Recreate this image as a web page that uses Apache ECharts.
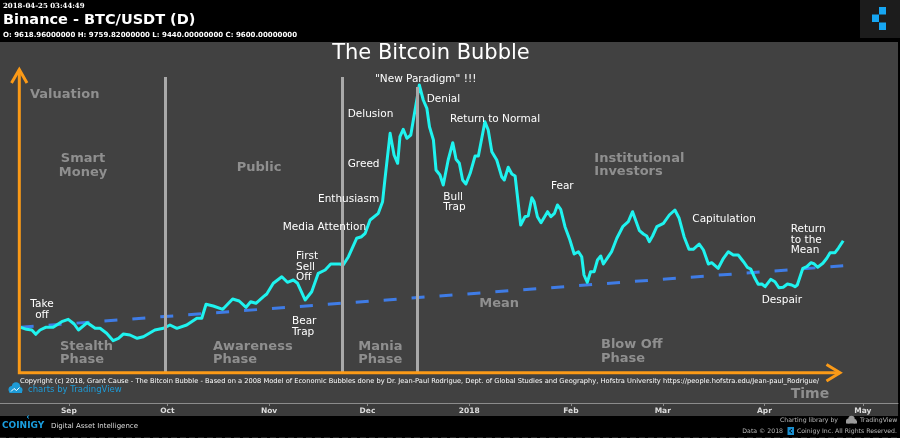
<!DOCTYPE html>
<html>
<head>
<meta charset="utf-8">
<script src="https://cdn.jsdelivr.net/npm/echarts@6/dist/echarts.min.js"></script>
<style>
  html, body { margin: 0; padding: 0; background: #000; }
  #c { width: 900px; height: 438px; }
</style>
</head>
<body>
<div id="c"></div>
<script>
// ---- data ----
// x: days after 2017-08-11, y: relative valuation
const startDate = [2017, 7, 11];
const bubbleCurve = [
  [6.3, 75.7], [8.1, 73.7], [9.7, 73], [10.9, 68.7], [12.2, 73], [13.9, 75.7], [16.2, 75.7], [18.8, 81.3],
  [20.8, 83.7], [22.6, 79], [23.9, 73], [26.6, 80.3], [29.0, 74.7], [30.5, 74.7], [32.5, 69.7], [34.5, 62.3],
  [36.1, 64.7], [37.6, 69], [39.6, 68], [41.8, 64.7], [43.7, 66.3], [47.2, 73], [49.8, 74.7], [51.8, 78],
  [53.9, 74.7], [56.9, 78], [60.0, 84.7], [61.5, 84.7], [62.8, 98.7], [65.0, 97], [67.9, 93.7], [70.9, 104],
  [72.9, 102], [75.0, 95.7], [76.4, 101.3], [78.0, 99.7], [80.3, 106.3], [81.3, 109], [83.3, 119.7], [85.9, 126.3],
  [87.6, 120.7], [89.4, 123], [90.7, 119.7], [93.0, 103], [95.0, 111.3], [97.0, 129.7], [99.1, 133], [100.8, 139],
  [103.6, 139], [104.6, 138], [106.2, 146.3], [108.7, 164.7], [110.2, 166.3], [111.3, 169.7], [112.8, 183], [115.3, 189.7],
  [116.6, 201.3], [117.3, 223], [118.9, 269.7], [120.1, 248], [121.2, 239.7], [121.9, 266.3], [122.9, 273.7], [124.0, 264.7],
  [125.2, 268], [126.5, 293], [127.8, 318], [129.0, 303], [130.1, 294.7], [130.9, 276.3], [132.1, 263], [132.9, 233],
  [134.1, 228], [135.1, 218], [136.6, 243], [138.0, 260.3], [139.0, 243.7], [140.0, 239.7], [141.0, 223], [142.0, 219],
  [143.3, 229.7], [144.8, 247], [145.8, 247], [147.8, 281.3], [148.8, 273], [149.9, 251.3], [151.4, 243], [152.9, 226.3],
  [153.7, 223], [154.9, 235.7], [156.0, 229], [157.0, 227], [158.7, 178], [160.0, 186.3], [161.0, 187.3], [162.1, 205.3],
  [162.8, 201.3], [163.8, 186.3], [164.9, 180.3], [166.9, 191.3], [167.9, 186.3], [169.0, 189.7], [169.9, 198], [170.9, 193.7],
  [172.2, 176.3], [173.7, 163], [175.0, 149], [176.3, 151.3], [177.3, 146.3], [178.0, 128], [179.0, 120.7], [180.0, 131.3],
  [181.1, 131.3], [182.1, 143], [183.1, 147], [183.9, 139], [185.4, 146.3], [186.4, 151.3], [188.0, 164.7], [189.8, 176.3],
  [191.5, 181.3], [192.8, 191.3], [194.9, 172.3], [196.1, 169], [197.1, 167], [197.9, 161.3], [198.9, 167], [200.2, 176.3],
  [202.2, 179.7], [204.0, 188], [205.7, 193], [207.0, 184.7], [208.5, 166.3], [210.0, 153.7], [211.3, 153.7], [213.1, 159],
  [214.4, 153], [215.9, 139], [216.9, 140.3], [218.9, 134.7], [220.5, 144.7], [222.0, 151.3], [223.5, 148], [225.0, 148],
  [226.6, 141.3], [227.8, 135.7], [228.8, 134], [230.1, 124.7], [231.1, 118.7], [232.2, 119], [233.2, 116.3], [234.9, 123.7],
  [236.2, 121.3], [237.4, 115.3], [238.7, 115.7], [240.0, 119], [241.3, 118], [242.3, 116.3], [243.0, 118], [244.7, 134.7],
  [245.9, 136.3], [247.2, 140.3], [248.2, 139], [249.2, 135.7], [250.8, 139.7], [252.0, 144.7], [253.0, 150.3], [254.5, 150.3],
  [255.5, 154.7], [257.0, 162.3]
];
const meanLine = [[6.3, 75.7], [257.0, 137.2]];
const phaseBoundaryDays = [50.4, 104.4, 127.3];
const phaseBoundaryTops = [326, 326, 316];
const phaseBoundaryBottom = 31;
const monthTickDates = [[2017, 8], [2017, 9], [2017, 10], [2017, 11], [2018, 0], [2018, 1], [2018, 2], [2018, 3], [2018, 4]];
const monthTickLabels = ['Sep', 'Oct', 'Nov', 'Dec', '2018', 'Feb', 'Mar', 'Apr', 'May'];
const axisSpanDays = 273.7;
const valuationMax = 361;

// ---- build ----
const DAY = 86400000;
const START = Date.UTC(startDate[0], startDate[1], startDate[2]);
const tickDays = monthTickDates.map(m => Math.round((Date.UTC(m[0], m[1], 1) - START) / DAY));
const labelMap = {};
tickDays.forEach((t, i) => { labelMap[t] = monthTickLabels[i]; });

const chart = echarts.init(document.getElementById('c'));

const FONT = 'DejaVu Sans';
function txt(x, y, text, o) {
  o = o || {};
  const st = {
    text: text,
    fill: o.fill || '#ffffff',
    font: (o.weight || 'normal') + ' ' + (o.size || 10.5) + 'px ' + (o.family || ('"' + FONT + '"')),
    textAlign: o.align || 'left',
    textVerticalAlign: 'middle'
  };
  if (o.lh) st.lineHeight = o.lh;
  return { type: 'text', x: x, y: y, z: 20, silent: true, style: st };
}
const G = { fill: '#8f8f8f', weight: 'bold', size: 13, lh: 13.4 };
const ORANGE = '#fb9a17';

const graphics = [
  { type: 'rect', z: 5, shape: { x: 860, y: 0, width: 40, height: 38 }, style: { fill: '#1c1c1c' } },
  { type: 'rect', z: 6, shape: { x: 879, y: 7, width: 7, height: 7.5 }, style: { fill: '#16a6f2' } },
  { type: 'rect', z: 6, shape: { x: 872, y: 14.5, width: 7, height: 7.5 }, style: { fill: '#16a6f2' } },
  { type: 'rect', z: 6, shape: { x: 879, y: 22.5, width: 7, height: 7.5 }, style: { fill: '#16a6f2' } },
  { type: 'rect', z: -1, shape: { x: 0, y: 403, width: 898, height: 13 }, style: { fill: '#3b3b3b' } },
  { type: 'polyline', z: 8, shape: { points: [[19.3, 69.5], [19.3, 372.7], [840, 372.7]] }, style: { stroke: ORANGE, lineWidth: 3, fill: null, lineJoin: 'miter' } },
  { type: 'polyline', z: 8, shape: { points: [[11.5, 83], [19.3, 69.5], [27, 83]] }, style: { stroke: ORANGE, lineWidth: 3, fill: null } },
  { type: 'polyline', z: 8, shape: { points: [[826.5, 364.5], [840, 372.7], [826.5, 381]] }, style: { stroke: ORANGE, lineWidth: 3, fill: null } },
  txt(3, 6, '2018-04-25 03:44:49', { size: 7, weight: 'bold', family: '"DejaVu Serif"' }),
  txt(3, 20, 'Binance - BTC/USDT (D)', { size: 14.5, weight: 'bold' }),
  txt(3, 35, 'O: 9618.96000000 H: 9759.82000000 L: 9440.00000000 C: 9600.00000000', { size: 7, weight: 'bold' }),
  txt(431, 54, 'The Bitcoin Bubble', { size: 21, align: 'center' }),
  txt(30, 94.3, 'Valuation', G),
  txt(83, 165.5, 'Smart\nMoney', Object.assign({}, G, { align: 'center' })),
  txt(259, 168, 'Public', Object.assign({}, G, { align: 'center' })),
  txt(594.3, 165, 'Institutional\nInvestors', G),
  txt(60, 353.3, 'Stealth\nPhase', G),
  txt(213, 353.3, 'Awareness\nPhase', G),
  txt(358.3, 353.3, 'Mania\nPhase', G),
  txt(601, 351.7, 'Blow Off\nPhase', G),
  txt(479.3, 304, 'Mean', G),
  txt(790.7, 394.5, 'Time', { fill: '#8f8f8f', weight: 'bold', size: 14 }),
  txt(42, 310, 'Take\noff', { align: 'center', lh: 10.5 }),
  txt(282.7, 227.3, 'Media Attention'),
  txt(296, 266.8, 'First\nSell\nOff', { lh: 10.2 }),
  txt(292, 327, 'Bear\nTrap', { lh: 10.6 }),
  txt(318, 199.3, 'Enthusiasm'),
  txt(347.7, 164, 'Greed'),
  txt(347.7, 114.3, 'Delusion'),
  txt(375, 79.3, '"New Paradigm" !!!'),
  txt(426.7, 99.3, 'Denial'),
  txt(450, 119, 'Return to Normal'),
  txt(443.3, 202.5, 'Bull\nTrap', { lh: 10.4 }),
  txt(551, 186, 'Fear'),
  txt(692.3, 219.3, 'Capitulation'),
  txt(790.7, 240, 'Return\nto the\nMean', { lh: 10.7 }),
  txt(761.7, 300, 'Despair'),
  txt(20, 381.7, 'Copyright (c) 2018, Grant Cause - The Bitcoin Bubble - Based on a 2008 Model of Economic Bubbles done by Dr. Jean-Paul Rodrigue, Dept. of Global Studies and Geography, Hofstra University https://people.hofstra.edu/Jean-paul_Rodrigue/', { size: 6.7 }),
  txt(28, 389.3, 'charts by TradingView', { size: 8.5, fill: '#1e9bd7' }),
  { type: 'group', z: 20, children: [
    { type: 'circle', z: 20, shape: { cx: 12, cy: 389.5, r: 3.5 }, style: { fill: '#1e9bd7' } },
    { type: 'circle', z: 20, shape: { cx: 16, cy: 386.5, r: 4.3 }, style: { fill: '#1e9bd7' } },
    { type: 'circle', z: 20, shape: { cx: 19.5, cy: 390, r: 3 }, style: { fill: '#1e9bd7' } },
    { type: 'rect', z: 20, shape: { x: 9.5, y: 389.5, width: 12.5, height: 3.5 }, style: { fill: '#1e9bd7' } },
    { type: 'polyline', z: 21, shape: { points: [[11, 391.5], [14, 388.5], [16.5, 390.5], [19.5, 387.5]] }, style: { stroke: '#fff', lineWidth: 1, fill: null } }
  ] },
  txt(2, 426, 'COINIGY', { size: 9, weight: 'bold', fill: '#1a9fe0' }),
  { type: 'polyline', z: 20, shape: { points: [[29, 415.5], [27, 417], [29, 418.5]] }, style: { stroke: '#1a9fe0', lineWidth: 1, fill: null } },
  txt(51, 426, 'Digital Asset Intelligence', { size: 7, fill: '#dddddd' }),
  txt(838, 420.3, 'Charting library by', { size: 6.2, fill: '#bbbbbb', align: 'right' }),
  { type: 'group', z: 20, children: [
    { type: 'circle', z: 20, shape: { cx: 848.5, cy: 421, r: 2.5 }, style: { fill: '#9a9a9a' } },
    { type: 'circle', z: 20, shape: { cx: 851.5, cy: 419, r: 3.2 }, style: { fill: '#9a9a9a' } },
    { type: 'circle', z: 20, shape: { cx: 854.5, cy: 421.3, r: 2.2 }, style: { fill: '#9a9a9a' } },
    { type: 'rect', z: 20, shape: { x: 846, y: 421, width: 11, height: 2.5 }, style: { fill: '#9a9a9a' } }
  ] },
  txt(860, 420.3, 'TradingView', { size: 6.2, fill: '#bbbbbb' }),
  txt(783, 431, 'Data \u00a9 2018', { size: 6.2, fill: '#bbbbbb', align: 'right' }),
  { type: 'rect', z: 20, shape: { x: 787.5, y: 427, width: 6.5, height: 8 }, style: { fill: '#1a8fd0' } },
  { type: 'polyline', z: 21, shape: { points: [[792, 429], [789.5, 431], [792, 433]] }, style: { stroke: '#000', lineWidth: 1, fill: null } },
  txt(797, 431, 'Coinigy Inc. All Rights Reserved.', { size: 6.2, fill: '#bbbbbb' }),
  { type: 'line', z: 20, shape: { x1: 0, y1: 437.5, x2: 900, y2: 437.5 }, style: { stroke: '#262626', lineWidth: 1, lineDash: [6, 3] } }
];

const phaseMarks = phaseBoundaryDays.map((d, i) => [
  { coord: [d, phaseBoundaryTops[i]] },
  { coord: [d, phaseBoundaryBottom] }
]);

chart.setOption({
  backgroundColor: '#000000',
  animation: false,
  grid: { left: 0, right: 2, top: 42, bottom: 35, show: true, backgroundColor: '#414141', borderWidth: 0 },
  xAxis: {
    type: 'value',
    min: 0,
    max: axisSpanDays,
    axisLine: { show: true, onZero: false, lineStyle: { color: '#8c8c8c', width: 1 } },
    axisTick: { show: true, customValues: tickDays, length: 3, lineStyle: { color: '#8c8c8c' } },
    axisLabel: {
      customValues: tickDays,
      formatter: v => labelMap[Math.round(v)] || '',
      color: '#dddddd', fontSize: 7.5, fontWeight: 'bold', fontFamily: FONT, margin: 4
    },
    splitLine: { show: false }
  },
  yAxis: { type: 'value', min: 0, max: valuationMax, show: false },
  series: [
    {
      type: 'line', name: 'phases', data: [], z: 1, silent: true,
      markLine: {
        silent: true, symbol: ['none', 'none'], label: { show: false },
        lineStyle: { color: '#a9a9a9', width: 3, type: 'solid' },
        data: phaseMarks
      }
    },
    {
      type: 'line', name: 'Mean', z: 2, silent: true, symbol: 'none',
      data: meanLine,
      lineStyle: { color: '#3f7ce6', width: 3, type: [13, 15], cap: 'butt' }
    },
    {
      type: 'line', name: 'Bubble', z: 3, silent: true, symbol: 'none', smooth: false,
      data: bubbleCurve,
      lineStyle: { color: '#1ff3ef', width: 3, join: 'round' }
    }
  ],
  graphic: graphics
});
</script>
</body>
</html>
